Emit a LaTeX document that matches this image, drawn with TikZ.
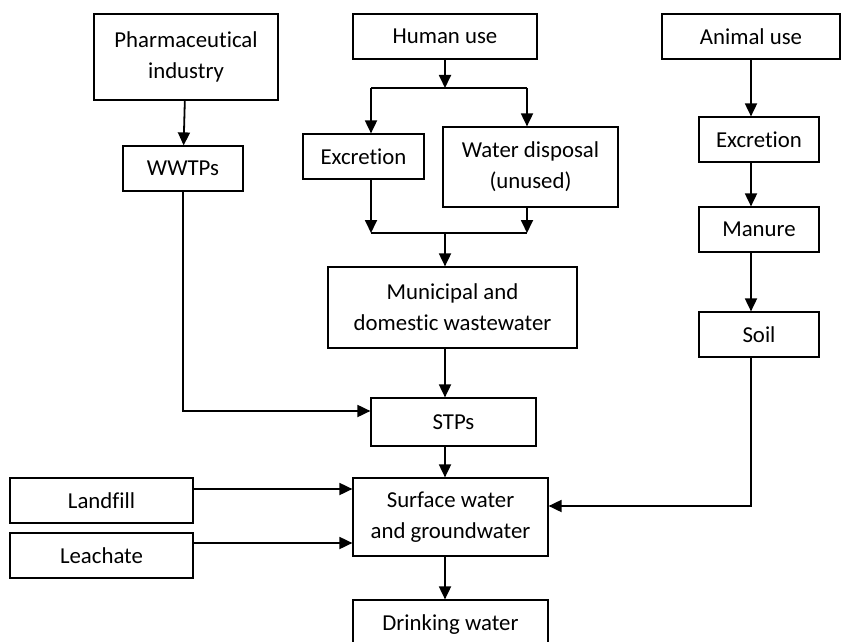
\documentclass[tikz,border=0pt]{standalone}
\usepackage{fontspec}
\setmainfont{Carlito}[Ligatures=NoCommon]
\usetikzlibrary{arrows.meta}

\begin{document}
\begin{tikzpicture}[x=0.5pt, y=-0.5pt,
node_style/.style={draw=black, line width=0.6pt, inner sep=0pt, align=center, font=\fontsize{11.4}{15.5}\selectfont},
edge_style/.style={draw=black, line width=0.9pt, -{Triangle[length=6.5pt,width=6pt]}},
line_style/.style={draw=black, line width=0.9pt}]
\useasboundingbox (0,0) rectangle (841,642);

\node[node_style, minimum width=92pt, minimum height=43pt] (pharma) at (186,57) {Pharmaceutical\\industry};
\node[node_style, minimum width=60pt, minimum height=22.5pt] (wwtp) at (183,168.5) {WWTPs};
\node[node_style, minimum width=92pt, minimum height=22.5pt] (human) at (445,36.5) {Human use};
\node[node_style, minimum width=89pt, minimum height=22.5pt] (animal) at (751,36.5) {Animal use};
\node[node_style, minimum width=60.5pt, minimum height=22.5pt] (excr_h) at (363.5,156.5) {Excretion};
\node[node_style, minimum width=87.5pt, minimum height=40pt] (disposal) at (530.5,167) {Water disposal\\(unused)};
\node[node_style, minimum width=124.5pt, minimum height=40.5pt] (municipal) at (452.5,307.5) {Municipal and\\domestic wastewater};
\node[node_style, minimum width=82.5pt, minimum height=24pt] (stp) at (453.5,422) {STPs};
\node[node_style, minimum width=97.5pt, minimum height=39pt] (surface) at (450.5,517) {Surface water\\and groundwater};
\node[node_style, minimum width=91.5pt, minimum height=22.5pt] (landfill) at (101.5,500.5) {Landfill};
\node[node_style, minimum width=91.5pt, minimum height=22.5pt] (leachate) at (101.5,555.5) {Leachate};
\node[node_style, minimum width=97.5pt, minimum height=25pt] (drinking) at (450.5,625) {Drinking water};
\node[node_style, minimum width=60pt, minimum height=22.5pt] (excr_a) at (759,139.5) {Excretion};
\node[node_style, minimum width=60pt, minimum height=22.5pt] (manure) at (759,229.5) {Manure};
\node[node_style, minimum width=60pt, minimum height=22.5pt] (soil) at (759,334.5) {Soil};

\coordinate (split) at (445,88);
\coordinate (split_l) at (371,88);
\coordinate (split_r) at (527,88);
\coordinate (merge) at (445,233);
\coordinate (merge_l) at (371,233);
\coordinate (merge_r) at (527,233);
\coordinate (w_bend) at (183,411);
\coordinate (s_bend) at (751,506);
\coordinate (l_in) at (193,489);
\coordinate (c_in) at (193,543);

\draw[edge_style] (human) -- (split);
\draw[line_style] (split_l) -- (split_r);
\draw[edge_style] (split_l) -- (split_l |- excr_h.north);
\draw[edge_style] (split_r) -- (split_r |- disposal.north);
\draw[edge_style] (excr_h.south -| merge_l) -- (merge_l);
\draw[edge_style] (disposal.south -| merge_r) -- (merge_r);
\draw[line_style] (merge_l) -- (merge_r);
\draw[edge_style] (merge) -- (merge |- municipal.north);
\draw[edge_style] (pharma) -- (wwtp);
\draw[edge_style] (wwtp.south) |- (stp.west |- w_bend);
\draw[edge_style] (municipal.south -| merge) -- (stp.north -| merge);
\draw[edge_style] (stp.south -| merge) -- (surface.north -| merge);
\draw[edge_style] (surface.south -| merge) -- (drinking.north -| merge);
\draw[edge_style] (landfill.east |- l_in) -- (surface.west |- l_in);
\draw[edge_style] (leachate.east |- c_in) -- (surface.west |- c_in);
\draw[edge_style] (animal) -- (animal |- excr_a.north);
\draw[edge_style] (excr_a.south -| animal) -- (manure.north -| animal);
\draw[edge_style] (manure.south -| animal) -- (soil.north -| animal);
\draw[edge_style] (soil.south -| animal) |- (surface.east |- s_bend);
\end{tikzpicture}
\end{document}
